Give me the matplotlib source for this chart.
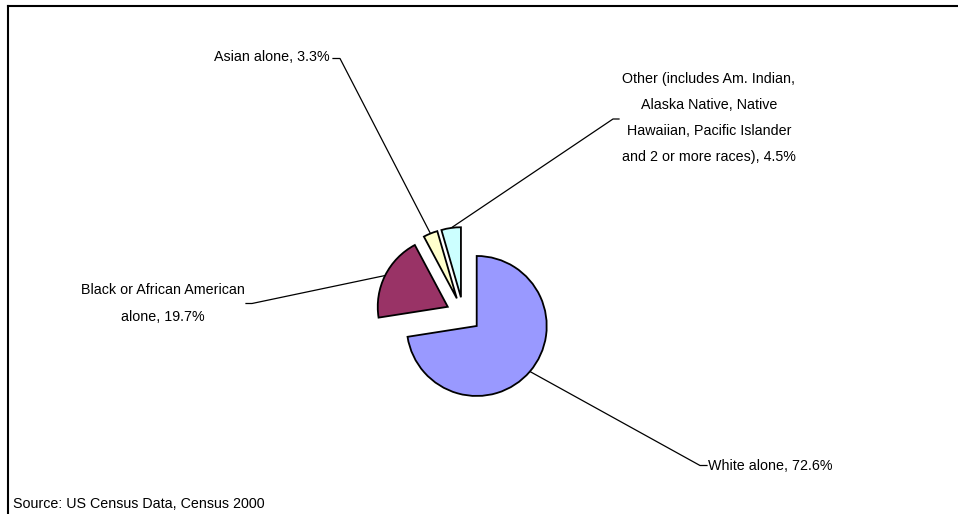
import numpy as np
import matplotlib
matplotlib.use("Agg")
import matplotlib.pyplot as plt
from matplotlib.lines import Line2D
from matplotlib import font_manager as fm

# ---- data ----
categories = ["White alone", "Black or African American alone", "Asian alone",
              "Other (includes Am. Indian, Alaska Native, Native Hawaiian, Pacific Islander and 2 or more races)"]
values = [72.6, 19.7, 3.3, 4.5]
label_texts = ["White alone, 72.6%",
               "Black or African American\nalone, 19.7%",
               "Asian alone, 3.3%",
               "Other (includes Am. Indian,\nAlaska Native, Native\nHawaiian, Pacific Islander\nand 2 or more races), 4.5%"]
colors = ["#9999FF", "#993366", "#FFFFCC", "#CCFFFF"]
source_text = "Source: US Census Data, Census 2000"

W, H = 958, 514
available = {f.name for f in fm.fontManager.ttflist}
if 'Liberation Sans Narrow' in available:
    FAMILY, FS, LS = 'Liberation Sans Narrow', 12, 1.9
else:
    FAMILY, FS, LS = 'Liberation Sans', 10.3, 2.1
plt.rcParams['font.family'] = [FAMILY, 'DejaVu Sans']

fig = plt.figure(figsize=(W / 100, H / 100), dpi=100)
ax = fig.add_axes([0, 0, 1, 1])

def Y(y):
    return H - y

center = (463.4, Y(314.6))
radius = 70
explode_dist = 0.25 * radius
wedges, _ = ax.pie(values, colors=colors, startangle=90, counterclock=False,
                   explode=[explode_dist] * len(values), center=center, radius=radius,
                   wedgeprops=dict(edgecolor='black', linewidth=1.3),
                   normalize=True, frame=True)
ax.set_xlim(0, W)
ax.set_ylim(0, H)
ax.set_aspect('equal')
ax.axis('off')

# label layout: (text pos, alignment, leader elbow points) in image pixels (y down)
layout = [
    dict(x=708, y=470.5, ha='left', va='baseline', e0=(700, 465.5), e1=(707, 465.5)),
    dict(x=245, y=303.5, ha='right', va='center', e0=(252, 303.5), e1=(246, 303.5)),
    dict(x=330, y=60.7, ha='right', va='baseline', e0=(340, 58.5), e1=(333, 58.5)),
    dict(x=622, y=118, ha='left', va='center', e0=(613, 119), e1=(619, 119)),
]

for w, txt, L in zip(wedges, label_texts, layout):
    mid = np.deg2rad((w.theta1 + w.theta2) / 2)
    cx, cy = w.center
    ax_pt = (cx + w.r * np.cos(mid), cy + w.r * np.sin(mid))
    ax.plot([ax_pt[0], L['e0'][0], L['e1'][0]],
            [ax_pt[1], Y(L['e0'][1]), Y(L['e1'][1])],
            color='black', lw=0.9, zorder=0.5)
    ax.text(L['x'], Y(L['y']), txt, ha=L['ha'], va=L['va'],
            multialignment='center', fontsize=FS, linespacing=LS, color='black')

ax.text(13, Y(508.3), source_text, ha='left', va='baseline', fontsize=FS, color='black')

# chart frame (top and left edges visible)
fig.add_artist(Line2D([8 / W, 1], [1 - 5.5 / H, 1 - 5.5 / H], color='black', lw=1.5))
fig.add_artist(Line2D([8 / W, 8 / W], [0, 1 - 5.5 / H], color='black', lw=1.5))

fig.savefig("out.png", dpi=100, facecolor='white')
